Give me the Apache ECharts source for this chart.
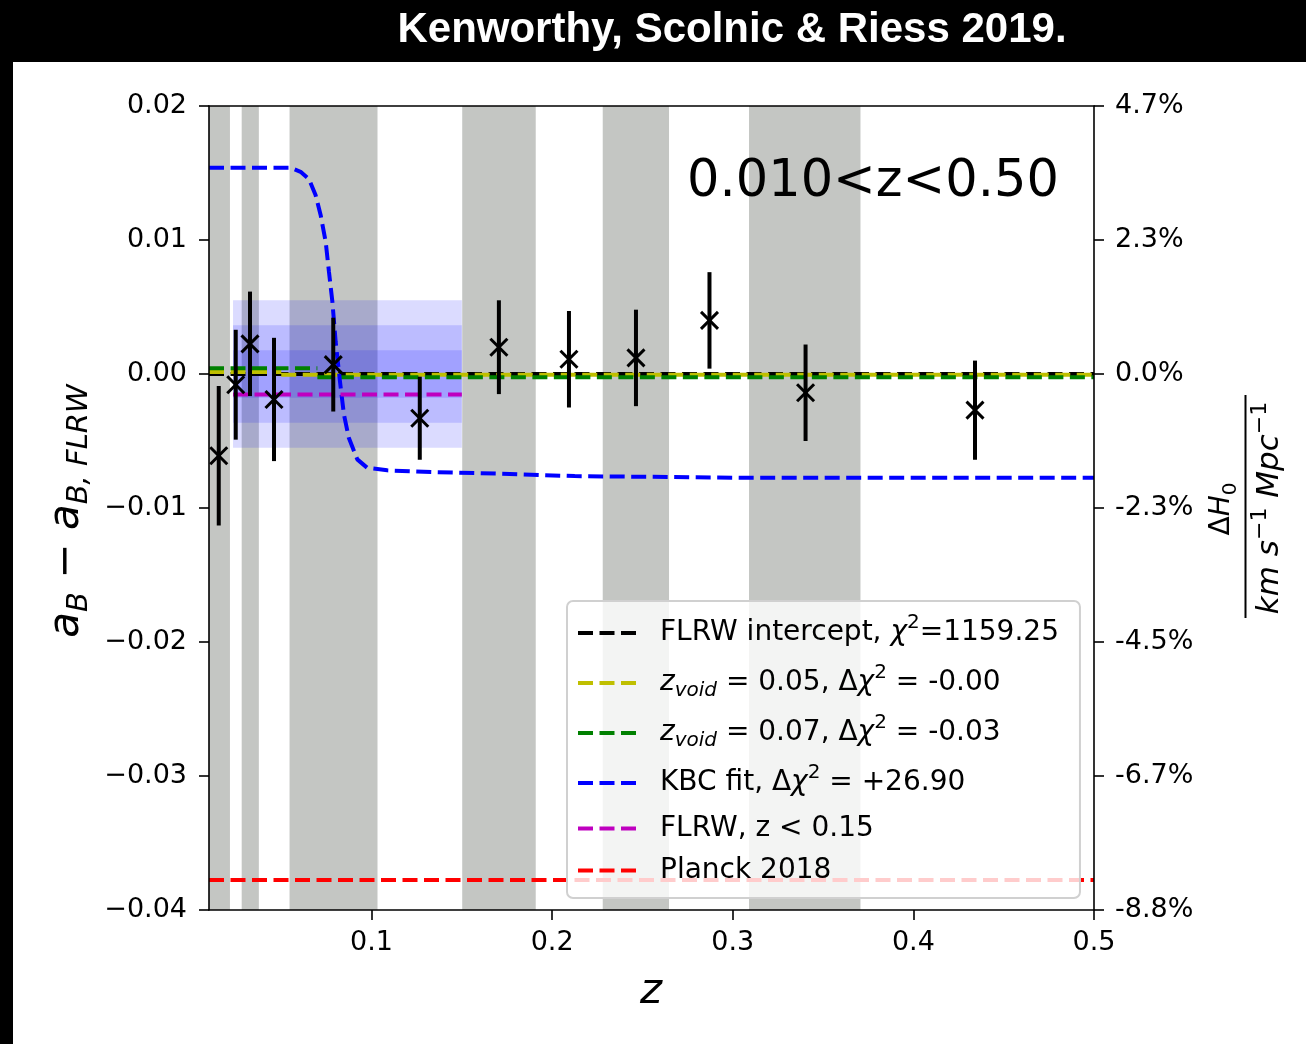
<!DOCTYPE html>
<html>
<head>
<meta charset="utf-8">
<script src="https://cdn.jsdelivr.net/npm/echarts@6/dist/echarts.min.js"></script>
<style>
html,body{margin:0;padding:0;background:#fff;}
#chart{width:1306px;height:1044px;}
</style>
</head>
<body>
<div id="chart"></div>
<script>
// ---------- data ----------
const zVals   = [0.0154, 0.0248, 0.0327, 0.0460, 0.0788, 0.1267, 0.1705, 0.2093, 0.2464, 0.2871, 0.3403, 0.4341];
const aVals   = [-0.0061, -0.0008, 0.00225, -0.0019, 0.0007, -0.0033, 0.0020, 0.0011, 0.0012, 0.0040, -0.0014, -0.0027];
const errVals = [0.0052, 0.0041, 0.0039, 0.0046, 0.0035, 0.0031, 0.0035, 0.0036, 0.0036, 0.0036, 0.0036, 0.0037];

const kbcZ = [0.010, 0.0552, 0.0607, 0.0653, 0.0690, 0.0718, 0.0746, 0.0764, 0.0783, 0.0801, 0.0825, 0.0847, 0.0874, 0.0921, 0.0976, 0.1087, 0.1345, 0.1714, 0.2125, 0.3043, 0.500];
const kbcA = [0.01539, 0.01539, 0.01509, 0.01455, 0.01336, 0.01187, 0.00988, 0.00765, 0.00541, 0.00244, -0.00054, -0.00302, -0.00476, -0.00637, -0.00700, -0.00719, -0.00732, -0.00744, -0.00762, -0.00774, -0.00774];

const bandStart = [0.0100, 0.0281, 0.0546, 0.1502, 0.2280, 0.3090];
const bandEnd   = [0.0216, 0.0376, 0.1033, 0.1909, 0.2647, 0.3707];

const boxZ = [0.0233, 0.150];
const boxCenter = 0.0;
const boxHalf = [0.0055, 0.00363, 0.00177];

const zRange = [0.01, 0.5];
const flrwLevel = 0.0;
const yellowStep = 0.05, yellowLevels = [0.00014, -0.00006];
const greenStep = 0.07,  greenLevels  = [0.00042, -0.00024];
const magentaZ = [0.0233, 0.150], magentaLevel = -0.00153;
const planckLevel = -0.03777;

const xTicks = [0.1, 0.2, 0.3, 0.4, 0.5];
const yMin = -0.04, yMax = 0.02, yStep = 0.01;
const rightLabels = ['-8.8%', '-6.7%', '-4.5%', '-2.3%', '0.0%', '2.3%', '4.7%'];

const seriesNames = ['flrw', 'z05', 'z07', 'kbc', 'flrw15', 'planck'];
const legendLabels = {
  flrw:   'FLRW intercept, {i|χ}{sup|2}=1159.25',
  z05:    '{i|z}{sub|void} = 0.05, Δ{i|χ}{sup|2} = -0.00',
  z07:    '{i|z}{sub|void} = 0.07, Δ{i|χ}{sup|2} = -0.03',
  kbc:    'KBC fit, Δ{i|χ}{sup|2} = +26.90',
  flrw15: 'FLRW, z < 0.15',
  planck: 'Planck 2018'
};
const colors = { flrw: '#000000', z05: '#bfbf00', z07: '#008000', kbc: '#0000ff', flrw15: '#bf00bf', planck: '#ff0000' };

// ---------- helpers ----------
const FONT = 'DejaVu Sans';
const dash = [15, 6.5];
function dashedLine(name, data, z) {
  return {
    name: name, type: 'line', data: data, showSymbol: false, symbol: 'none',
    color: colors[name], z: z || 3, silent: true, animation: false,
    lineStyle: { color: colors[name], width: 4, type: dash }
  };
}

const chart = echarts.init(document.getElementById('chart'), null, { renderer: 'canvas' });

const bandAreas = bandStart.map((s, i) => [{ xAxis: s }, { xAxis: bandEnd[i] }]);
const boxAreas = boxHalf.map(h => [{ xAxis: boxZ[0], yAxis: boxCenter - h }, { xAxis: boxZ[1], yAxis: boxCenter + h }]);

const axisLineStyle = { show: true, onZero: false, lineStyle: { color: '#000', width: 1.6 } };
const axisTickStyle = { show: true, inside: false, length: 10, lineStyle: { color: '#000', width: 1.6 } };

const dashIcon = 'path://M0,0H15V4H0Z M21.5,0H36.5V4H21.5Z M43,0H58V4H43Z';

const option = {
  animation: false,
  backgroundColor: '#ffffff',
  grid: { left: 209, right: 212, top: 106, bottom: 134, containLabel: false },
  xAxis: [
    {
      type: 'value', min: zRange[0], max: zRange[1], position: 'bottom', z: 10,
      axisLine: axisLineStyle, splitLine: { show: false },
      axisTick: Object.assign({}, axisTickStyle, { customValues: xTicks }),
      axisLabel: { customValues: xTicks, formatter: v => v.toFixed(1), color: '#000', fontFamily: FONT, fontSize: 27, margin: 19 }
    },
    {
      type: 'value', min: zRange[0], max: zRange[1], position: 'top', z: 10,
      axisLine: axisLineStyle,
      axisTick: { show: false }, axisLabel: { show: false }, splitLine: { show: false }
    }
  ],
  yAxis: [
    {
      type: 'value', min: yMin, max: yMax, interval: yStep, position: 'left', z: 10,
      axisLine: axisLineStyle, axisTick: axisTickStyle, splitLine: { show: false },
      axisLabel: { color: '#000', fontFamily: FONT, fontSize: 27, margin: 22,
        formatter: v => (v < -1e-9 ? '\u2212' : '') + Math.abs(v).toFixed(2) }
    },
    {
      type: 'value', min: yMin, max: yMax, interval: yStep, position: 'right', z: 10,
      axisLine: axisLineStyle, axisTick: axisTickStyle, splitLine: { show: false },
      axisLabel: { color: '#000', fontFamily: FONT, fontSize: 27, margin: 21,
        formatter: v => rightLabels[Math.round((v - yMin) / yStep)] }
    }
  ],
  legend: {
    orient: 'vertical', left: 567, top: 601, z: 20,
    padding: [12, 21, 12, 11],
    itemWidth: 58, itemHeight: 4, itemGap: 11,
    backgroundColor: 'rgba(255,255,255,0.8)',
    borderColor: '#d0d0d0', borderWidth: 2, borderRadius: 6,
    selectedMode: false,
    data: seriesNames.map(n => ({ name: n, icon: dashIcon })),
    formatter: n => legendLabels[n],
    textStyle: {
      fontFamily: FONT, fontSize: 28, color: '#000', lineHeight: 31, padding: [0, 0, 0, 19],
      rich: {
        i:   { fontFamily: FONT, fontSize: 28, fontStyle: 'italic', color: '#000', lineHeight: 38 },
        sup: { fontFamily: FONT, fontSize: 20, color: '#000', verticalAlign: 'top', lineHeight: 38, height: 18 },
        sub: { fontFamily: FONT, fontSize: 20, fontStyle: 'italic', color: '#000', verticalAlign: 'bottom', lineHeight: 38, height: 22 }
      }
    }
  },
  graphic: [
    { type: 'rect', shape: { x: 0, y: 0, width: 1306, height: 62 }, style: { fill: '#000' }, z: 100 },
    { type: 'rect', shape: { x: 0, y: 0, width: 13, height: 1044 }, style: { fill: '#000' }, z: 100 },
    { type: 'text', x: 732, y: 30, z: 101,
      style: { text: 'Kenworthy, Scolnic & Riess 2019.', fill: '#fff', fontFamily: 'Liberation Sans', fontWeight: 'bold', fontSize: 42,
        align: 'center', verticalAlign: 'middle', textAlign: 'center', textVerticalAlign: 'middle' } },
    { type: 'text', x: 873, y: 183, z: 50,
      style: { text: '0.010<z<0.50', fill: '#000', fontFamily: FONT, fontSize: 51,
        align: 'center', verticalAlign: 'middle', textAlign: 'center', textVerticalAlign: 'middle' } },
    { type: 'text', x: 651, y: 992, z: 50,
      style: { text: 'z', fill: '#000', fontFamily: FONT, fontStyle: 'italic', fontSize: 42,
        align: 'center', verticalAlign: 'middle', textAlign: 'center', textVerticalAlign: 'middle' } },
    { type: 'text', x: 67, y: 511, rotation: Math.PI / 2, z: 50,
      style: {
        text: '{a|a}{s|B}{m| \u2212 }{a|a}{s|B, FLRW}', fill: '#000',
        align: 'center', verticalAlign: 'middle', textAlign: 'center', textVerticalAlign: 'middle',
        rich: {
          a: { fontFamily: FONT, fontStyle: 'italic', fontSize: 42, fill: '#000', color: '#000', lineHeight: 50 },
          m: { fontFamily: FONT, fontSize: 42, fill: '#000', color: '#000', lineHeight: 50 },
          s: { fontFamily: FONT, fontStyle: 'italic', fontSize: 29, fill: '#000', color: '#000', verticalAlign: 'bottom', lineHeight: 50, height: 26 }
        }
      } },
    { type: 'text', x: 1222, y: 509, rotation: Math.PI / 2, z: 50,
      style: {
        text: '{d|Δ}{i|H}{s|0}', fill: '#000',
        align: 'center', verticalAlign: 'middle', textAlign: 'center', textVerticalAlign: 'middle',
        rich: {
          d: { fontFamily: FONT, fontSize: 28, fill: '#000', color: '#000', lineHeight: 34 },
          i: { fontFamily: FONT, fontStyle: 'italic', fontSize: 28, fill: '#000', color: '#000', lineHeight: 34 },
          s: { fontFamily: FONT, fontSize: 20, fill: '#000', color: '#000', verticalAlign: 'bottom', lineHeight: 34, height: 16 }
        }
      } },
    { type: 'line', z: 50, shape: { x1: 1245.5, y1: 395, x2: 1245.5, y2: 618 }, style: { stroke: '#000', lineWidth: 2 } },
    { type: 'text', x: 1270, y: 508, rotation: Math.PI / 2, z: 50,
      style: {
        text: '{i|km s}{p|\u22121}{i| Mpc}{p|\u22121}', fill: '#000',
        align: 'center', verticalAlign: 'middle', textAlign: 'center', textVerticalAlign: 'middle',
        rich: {
          i: { fontFamily: FONT, fontStyle: 'italic', fontSize: 31, fill: '#000', color: '#000', lineHeight: 40 },
          p: { fontFamily: FONT, fontSize: 22, fill: '#000', color: '#000', verticalAlign: 'top', lineHeight: 40, height: 20 }
        }
      } }
  ],
  series: [
    { name: 'bands', type: 'line', data: [], z: 1, silent: true,
      markArea: { silent: true, itemStyle: { color: '#c4c6c3', opacity: 1 }, label: { show: false }, data: bandAreas } },
    { name: 'boxes', type: 'line', data: [], z: 1, silent: true,
      markArea: { silent: true, itemStyle: { color: 'rgba(0,0,255,0.14)' }, label: { show: false }, data: boxAreas } },
    dashedLine('flrw', [[zRange[0], flrwLevel], [zRange[1], flrwLevel]], 3),
    dashedLine('z05', [[zRange[0], yellowLevels[0]], [yellowStep, yellowLevels[0]], [yellowStep, '-'], [yellowStep, yellowLevels[1]], [zRange[1], yellowLevels[1]]], 4),
    dashedLine('z07', [[zRange[0], greenLevels[0]], [greenStep, greenLevels[0]], [greenStep, '-'], [greenStep, greenLevels[1]], [zRange[1], greenLevels[1]]], 4),
    dashedLine('kbc', kbcZ.map((z, i) => [z, kbcA[i]]), 5),
    dashedLine('flrw15', [[magentaZ[0], magentaLevel], [magentaZ[1], magentaLevel]], 5),
    dashedLine('planck', [[zRange[0], planckLevel], [zRange[1], planckLevel]], 5),
    {
      name: 'points', type: 'custom', z: 6, silent: true,
      data: zVals.map((z, i) => [z, aVals[i], errVals[i]]),
      encode: { x: 0, y: 1 },
      renderItem: function (params, api) {
        const x = api.value(0), y = api.value(1), e = api.value(2);
        const top = api.coord([x, y + e]), bot = api.coord([x, y - e]), c = api.coord([x, y]);
        const s = 8.5;
        return { type: 'group', children: [
          { type: 'line', shape: { x1: top[0], y1: top[1], x2: bot[0], y2: bot[1] }, style: { stroke: '#000', lineWidth: 4 } },
          { type: 'line', shape: { x1: c[0] - s, y1: c[1] - s, x2: c[0] + s, y2: c[1] + s }, style: { stroke: '#000', lineWidth: 3 } },
          { type: 'line', shape: { x1: c[0] - s, y1: c[1] + s, x2: c[0] + s, y2: c[1] - s }, style: { stroke: '#000', lineWidth: 3 } }
        ] };
      }
    }
  ]
};
chart.setOption(option);
</script>
</body>
</html>
